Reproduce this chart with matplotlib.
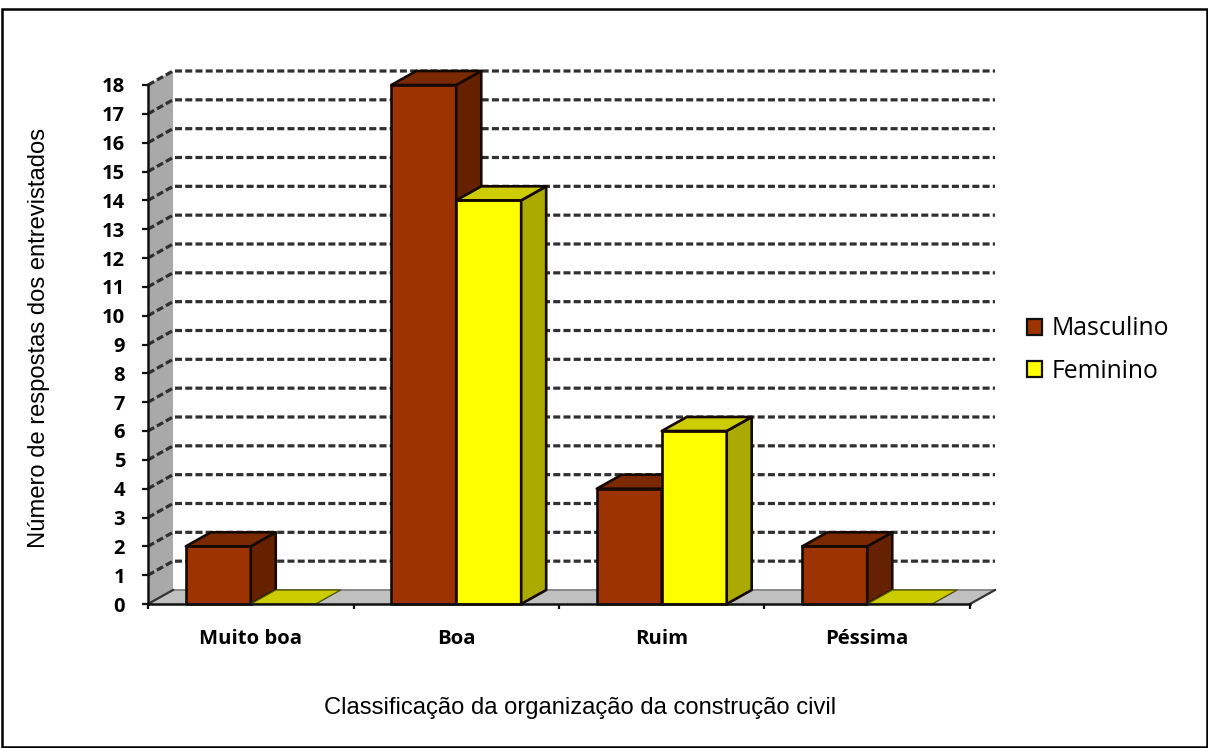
import matplotlib
matplotlib.use("Agg")
import matplotlib.pyplot as plt
from matplotlib.patches import Polygon, Rectangle, Patch

categories = ["Muito boa", "Boa", "Ruim", "Péssima"]
masculino = [2, 18, 4, 2]
feminino = [0, 14, 6, 0]
yticks = list(range(0, 19))

W, H = 1208, 748
fig = plt.figure(figsize=(W / 100, H / 100), dpi=100, facecolor="white")
L, R, T, B = 148, 970, 85, 604
ax = fig.add_axes([L / W, 1 - B / H, (R - L) / W, (B - T) / H])
ax.set_xlim(-0.5, 3.5)
ax.set_ylim(0, 18)
ax.patch.set_visible(False)

DX = 25 / 205.5
DY = 14 / 28.83
BW = 0.316
EDGE = "#150800"


def poly(pts, fc, ec=EDGE, lw=1.9, z=3):
    ax.add_patch(Polygon(pts, closed=True, facecolor=fc, edgecolor=ec, linewidth=lw,
                         joinstyle="round", clip_on=False, zorder=z))


# side wall and floor
poly([(-0.5, 0), (-0.5 + DX, DY), (-0.5 + DX, 18 + DY), (-0.5, 18)], "#a9a9a9", ec="none", lw=0, z=1)
poly([(-0.5, 0), (-0.5 + DX, DY), (3.5 + DX, DY), (3.5, 0)], "#c0c0c0", ec="none", lw=0, z=1)
ax.plot([-0.5 + DX, 3.5 + DX], [DY, DY], color="#8a8a8a", lw=1.4, clip_on=False, zorder=1.5)
ax.plot([3.5, 3.5 + DX], [0, DY], color="#333333", lw=1.6, clip_on=False, zorder=1.5)
ax.plot([-0.5, -0.5 + DX], [0, DY], color="#333333", lw=1.6, clip_on=False, zorder=1.5)

# dashed gridlines on walls
for v in yticks[1:]:
    ax.plot([-0.5, -0.5 + DX, 3.5 + DX], [v, v + DY, v + DY], color="#303030", lw=2.3,
            dashes=(2.2, 1.0), clip_on=False, zorder=2, solid_joinstyle="miter")


def bar3d(x0, h, front, top, side):
    x1 = x0 + BW
    if h > 0:
        poly([(x0, 0), (x1, 0), (x1, h), (x0, h)], front)
        poly([(x1, 0), (x1 + DX, DY), (x1 + DX, h + DY), (x1, h)], side)
        poly([(x0, h), (x1, h), (x1 + DX, h + DY), (x0 + DX, h + DY)], top)
    else:
        poly([(x0, h), (x1, h), (x1 + DX, h + DY), (x0 + DX, h + DY)], top, ec="#55550a", lw=1.0)


for i in range(len(categories)):
    bar3d(i - BW, masculino[i], "#9c3300", "#7a2900", "#662200")
    bar3d(i, feminino[i], "#ffff00", "#cccc00", "#aaaa00")

# axes
for s in ("top", "right"):
    ax.spines[s].set_visible(False)
for s in ("left", "bottom"):
    ax.spines[s].set_linewidth(1.8)
    ax.spines[s].set_color("#111111")
    ax.spines[s].set_zorder(5)

ax.set_yticks(yticks)
ax.set_xticks([-0.5, 0.5, 1.5, 2.5, 3.5])
ax.set_xticklabels([])
ax.set_xticks(range(len(categories)), minor=True)
ax.set_xticklabels(categories, minor=True, fontfamily="Open Sans", fontweight="bold", fontsize=14.6)
ax.tick_params(axis="x", which="major", length=3.5, width=1.6, color="#111111")
ax.tick_params(axis="x", which="minor", length=0, pad=18)
ax.tick_params(axis="y", length=4, width=1.6, color="#111111", pad=12.5)
for lab in ax.get_yticklabels():
    lab.set_fontfamily("Open Sans")
    lab.set_fontweight("bold")
    lab.set_fontsize(14.5)

ax.set_xlabel("Classificação da organização da construção civil", fontfamily="Liberation Sans", fontsize=17.1)
ax.xaxis.set_label_coords((580 - L) / (R - L), -(708 - B) / (B - T), transform=ax.transAxes)
ax.xaxis.label.set_verticalalignment("center")
ax.set_ylabel("Número de respostas dos entrevistados", fontfamily="Liberation Sans", fontsize=17.1)
ax.yaxis.set_label_coords((39 - L) / (R - L), (B - 338) / (B - T), transform=ax.transAxes)
ax.yaxis.label.set_verticalalignment("center")

leg = fig.legend(handles=[Patch(facecolor="#9c3300", edgecolor="#111111", linewidth=1.6, label="Masculino"),
                          Patch(facecolor="#ffff00", edgecolor="#111111", linewidth=1.6, label="Feminino")],
                 loc="center left", bbox_to_anchor=(1022 / W, 1 - 350 / H), frameon=False,
                 prop={"family": "Open Sans", "size": 17.8}, handlelength=0.61, handleheight=0.61,
                 handletextpad=0.38, labelspacing=0.7, borderpad=0.2, borderaxespad=0)

# outer frame
fig.add_artist(Rectangle((1.5 / W, 1 - 746.5 / H), (W - 3) / W, 738 / H, transform=fig.transFigure,
                         facecolor="none", edgecolor="black", linewidth=1.8))

fig.savefig("out.png", dpi=100)
